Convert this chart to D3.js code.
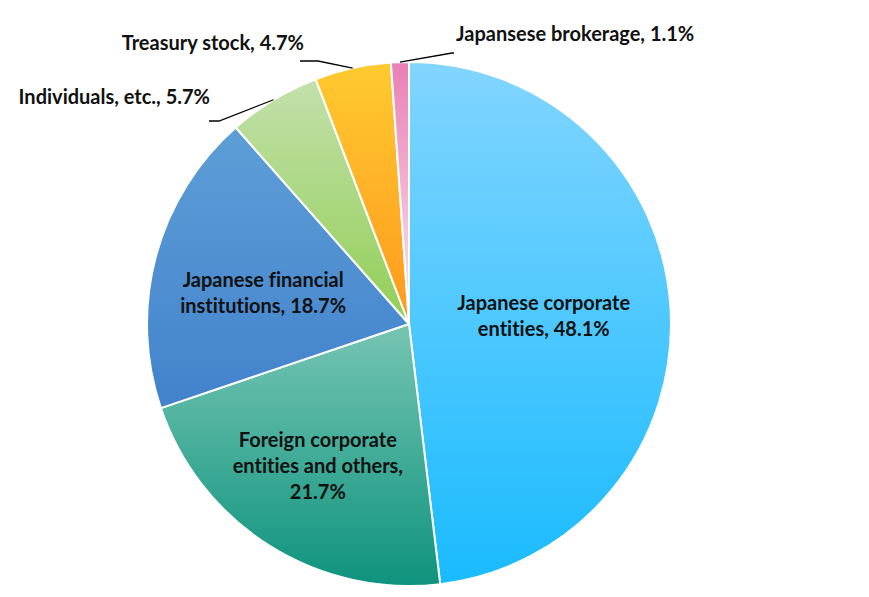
<!DOCTYPE html>
<html>
<head>
<meta charset="utf-8">
<script src="https://cdn.jsdelivr.net/npm/d3@7"></script>
<style>
  body { margin: 0; background: #fff; }
  svg text { font-family: Lato, "Open Sans", sans-serif; font-weight: 700; fill: #111;
             font-variant-ligatures: none; font-feature-settings: "liga" 0; }
</style>
</head>
<body>
<svg id="chart" width="869" height="597"></svg>
<script>
// shareholder composition, clockwise from 12 o'clock
const categories = [
  "Japanese corporate entities",
  "Foreign corporate entities and others",
  "Japanese financial institutions",
  "Individuals, etc.",
  "Treasury stock",
  "Japansese brokerage"
];
const shares = [48.1, 21.7, 18.7, 5.7, 4.7, 1.1];

// label lines as drawn (inside labels are wrapped)
const labelLines = [
  ["Japanese corporate", "entities, 48.1%"],
  ["Foreign corporate", "entities and others,", "21.7%"],
  ["Japanese financial", "institutions, 18.7%"],
  ["Individuals, etc., 5.7%"],
  ["Treasury stock, 4.7%"],
  ["Japansese brokerage, 1.1%"]
];

// gradient top -> bottom per slice
const gradTop = ["#82d5ff", "#76c5b2", "#5e9ed7", "#c3e0ab", "#ffca30", "#e97fb5"];
const gradBottom = ["#19bbfe", "#0e937e", "#4282cc", "#91cf55", "#ff991d", "#fce9f3"];

const width = 869, height = 597;
const cx = 409, cy = 324, radius = 262;

// inside label placement: distance from centre + vertical nudge (best-fit in the original)
const insideRadius = { 0: 135, 1: 171, 2: 151 };
const insideNudge = { 0: 0, 1: -3, 2: 8 };

// outside label layout: elbow of leader, end of leader, text anchor point
const outside = {
  3: { elbow: [219, 121], end: [209, 121], text: [210, 104], anchor: "end" },
  4: { elbow: [318, 61], end: [300, 61], text: [304, 50], anchor: "end" },
  5: { elbow: [452, 53], end: [454, 53], text: [456, 41], anchor: "start" }
};

const svg = d3.select("#chart");
const defs = svg.append("defs");

categories.forEach((c, i) => {
  const g = defs.append("linearGradient")
    .attr("id", "grad" + i)
    .attr("x1", 0).attr("y1", 0).attr("x2", 0).attr("y2", 1);
  g.append("stop").attr("offset", "0%").attr("stop-color", gradTop[i]);
  g.append("stop").attr("offset", "100%").attr("stop-color", gradBottom[i]);
});

const pie = d3.pie().sort(null).value(d => d);
const arcs = pie(shares);

const arc = d3.arc().innerRadius(0).outerRadius(radius);

const chart = svg.append("g").attr("transform", `translate(${cx},${cy})`);

chart.selectAll("path.slice")
  .data(arcs)
  .enter().append("path")
  .attr("class", "slice")
  .attr("d", arc)
  .attr("fill", (d, i) => `url(#grad${i})`)
  .attr("stroke", "#fff")
  .attr("stroke-width", 2)
  .attr("stroke-linejoin", "round");

// inside labels
const lineH = 26;
const fontSize = 20;

arcs.forEach((d, i) => {
  if (outside[i]) return;
  const r = insideRadius[i];
  const [x, y0] = d3.arc().innerRadius(r).outerRadius(r).centroid(d);
  const y = y0 + insideNudge[i];
  const lines = labelLines[i];
  const t = chart.append("text")
    .attr("text-anchor", "middle")
    .attr("font-size", fontSize);
  lines.forEach((ln, k) => {
    t.append("tspan")
      .attr("x", x)
      .attr("y", y + (k - (lines.length - 1) / 2) * lineH)
      .attr("dy", "0.35em")
      .text(ln);
  });
});

// outside labels with leader lines
arcs.forEach((d, i) => {
  const o = outside[i];
  if (!o) return;
  const mid = (d.startAngle + d.endAngle) / 2;
  const sx = cx + Math.sin(mid) * radius;
  const sy = cy - Math.cos(mid) * radius;
  svg.append("path")
    .attr("d", d3.line()([[sx, sy], o.elbow, o.end]))
    .attr("fill", "none")
    .attr("stroke", "#000")
    .attr("stroke-width", 1.3);
  svg.append("text")
    .attr("x", o.text[0])
    .attr("y", o.text[1])
    .attr("text-anchor", o.anchor)
    .attr("font-size", fontSize)
    .text(labelLines[i][0]);
});
</script>
</body>
</html>
